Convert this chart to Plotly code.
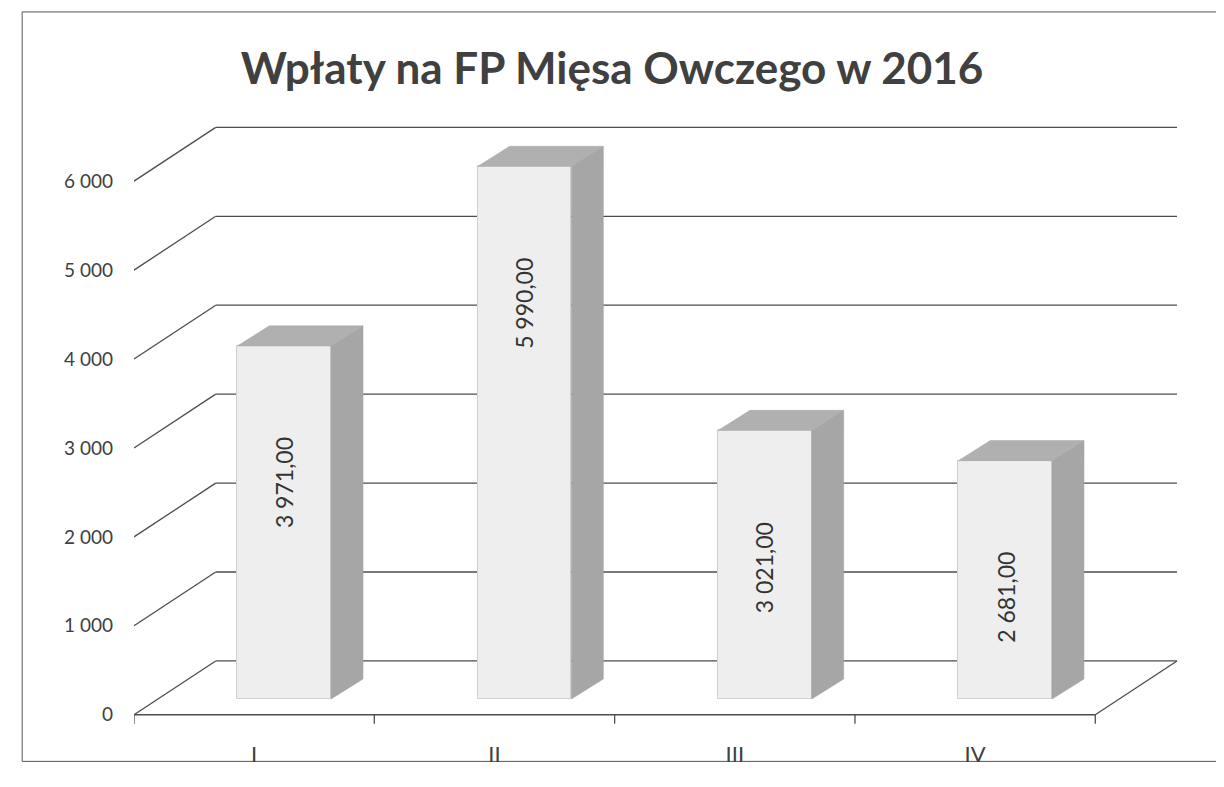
import plotly.graph_objects as go

# ---------------- data ----------------
categories = ["I", "II", "III", "IV"]
values = [3971.00, 5990.00, 3021.00, 2681.00]
value_labels = ["3 971,00", "5 990,00", "3 021,00", "2 681,00"]
y_ticks = [0, 1000, 2000, 3000, 4000, 5000, 6000]
y_tick_labels = ["0", "1 000", "2 000", "3 000", "4 000", "5 000", "6 000"]
title_text = "Wpłaty na FP Mięsa Owczego w 2016"

# ---------------- pseudo-3D projection settings ----------------
DX, DY = 0.34, 605      # full depth of the chart box (x units, value units)
BX, BY = 0.125, 176     # offset of bar front faces into the box
DDX, DDY = 0.133, 226   # bar depth (front face -> back face)
W = 0.39                # bar width in category units
LABEL_DROP = 1540       # data label centre below bar top (value units)

FONT = "Lato, 'Open Sans', sans-serif"
TXT = "#404040"
GRID = "#4d4d4d"

n = len(categories)
fig = go.Figure()

shapes = []
# walls / gridlines (drawn below traces so bars hide them)
for v in y_ticks:
    shapes.append(dict(type="line", xref="x", yref="y", x0=0, y0=v, x1=DX, y1=v + DY,
                       line=dict(color=GRID, width=1.3), layer="below"))
    shapes.append(dict(type="line", xref="x", yref="y", x0=DX, y0=v + DY, x1=n + DX, y1=v + DY,
                       line=dict(color=GRID, width=1.3), layer="below"))
# floor edges
shapes.append(dict(type="line", xref="x", yref="y", x0=0, y0=0, x1=n, y1=0,
                   line=dict(color=GRID, width=1.3), layer="below"))
shapes.append(dict(type="line", xref="x", yref="y", x0=n, y0=0, x1=n + DX, y1=DY,
                   line=dict(color=GRID, width=1.3), layer="below"))
# category tick marks on the front edge
for i in range(n + 1):
    shapes.append(dict(type="line", xref="x", yref="y", x0=i, y0=0, x1=i, y1=-100,
                       line=dict(color=GRID, width=1.3), layer="below"))
# outer chart border
shapes.append(dict(type="rect", xref="paper", yref="paper", x0=-0.106, y0=-0.0389, x1=1.06, y1=1.1564,
                   line=dict(color="#555555", width=1), layer="below"))

centers = [i + 0.5 + BX for i in range(n)]

# front faces
fig.add_trace(go.Bar(
    x=centers, y=values, base=BY, width=W,
    marker=dict(color="#eeeeee", line=dict(color="#d0d0d0", width=1)),
    hoverinfo="skip", showlegend=False,
))

# side and top faces
for c, v in zip(centers, values):
    x0, x1 = c - W / 2, c + W / 2
    y0, y1 = BY, BY + v
    fig.add_trace(go.Scatter(
        x=[x1, x1 + DDX, x1 + DDX, x1, x1],
        y=[y0, y0 + DDY, y1 + DDY, y1, y0],
        fill="toself", fillcolor="#a6a6a6", mode="lines",
        line=dict(color="#9e9e9e", width=0.5), hoverinfo="skip", showlegend=False,
    ))
    fig.add_trace(go.Scatter(
        x=[x0, x1, x1 + DDX, x0 + DDX, x0],
        y=[y1, y1, y1 + DDY, y1 + DDY, y1],
        fill="toself", fillcolor="#b0b0b0", mode="lines",
        line=dict(color="#a6a6a6", width=0.5), hoverinfo="skip", showlegend=False,
    ))

annotations = []
for c, v, t in zip(centers, values, value_labels):
    annotations.append(dict(x=c, y=BY + v - LABEL_DROP, xref="x", yref="y", text=t,
                            showarrow=False, textangle=-90,
                            font=dict(family=FONT, size=23, color="#333333")))

fig.update_layout(
    width=1208, height=771,
    margin=dict(l=126, r=27.3, t=102.3, b=27.9),
    paper_bgcolor="white", plot_bgcolor="white",
    title=dict(text=title_text, x=0.5, xanchor="center", y=0.922, yanchor="middle",
               font=dict(family=FONT, size=44, color=TXT, weight="bold")),
    shapes=shapes, annotations=annotations,
    xaxis=dict(range=[0, 4.39], showgrid=False, zeroline=False, showline=False,
               tickmode="array", tickvals=[i + 0.5 for i in range(n)], ticktext=categories,
               ticks="", ticklabelstandoff=2,
               tickfont=dict(family=FONT, size=22, color=TXT), fixedrange=True),
    yaxis=dict(range=[-250, 6800], showgrid=False, zeroline=False, showline=False,
               tickmode="array", tickvals=y_ticks, ticktext=y_tick_labels,
               ticks="", ticklabelstandoff=20,
               tickfont=dict(family=FONT, size=19, color=TXT), fixedrange=True),
    bargap=0, showlegend=False,
)

fig.write_html("out.html")
